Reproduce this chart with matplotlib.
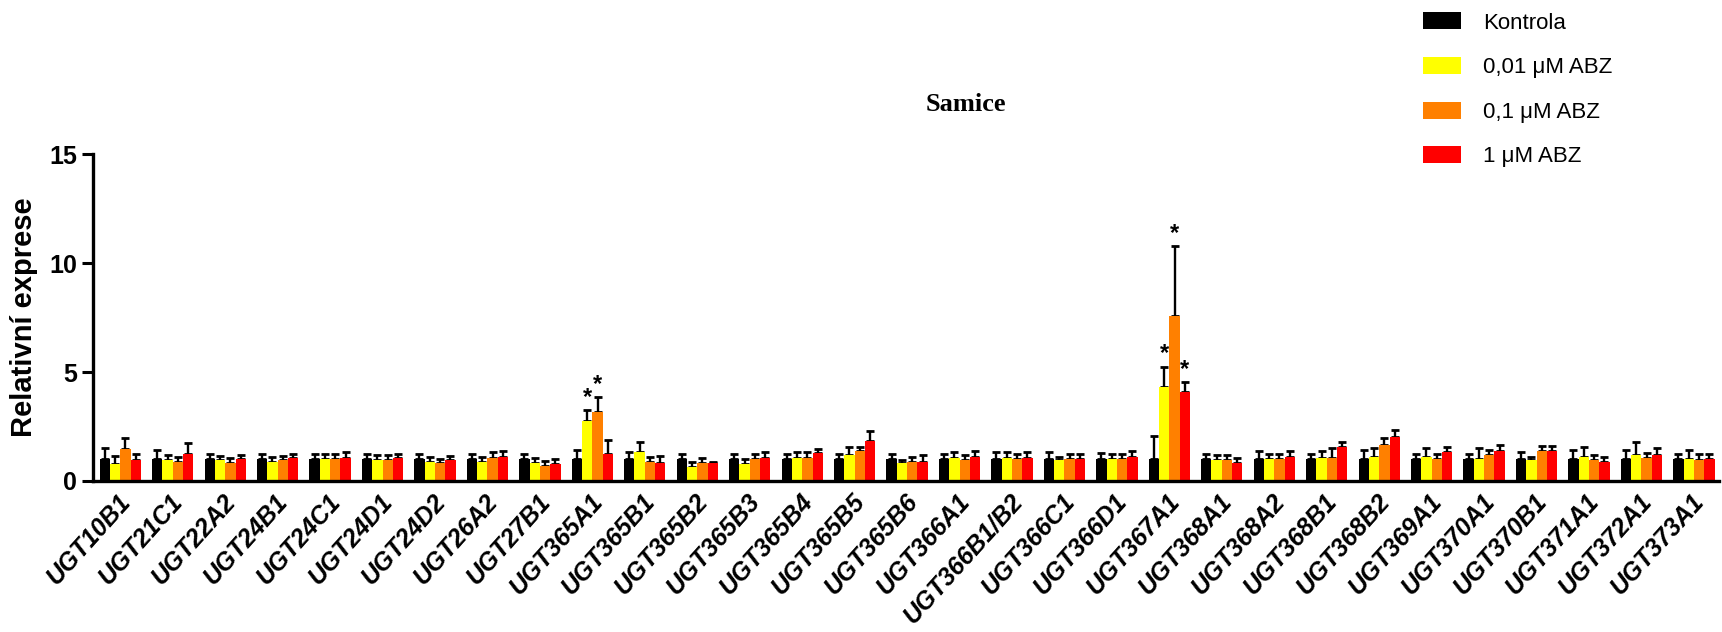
import numpy as np
import matplotlib
matplotlib.use("Agg")
import matplotlib.pyplot as plt

genes = [
    "UGT10B1", "UGT21C1", "UGT22A2", "UGT24B1", "UGT24C1", "UGT24D1", "UGT24D2",
    "UGT26A2", "UGT27B1", "UGT365A1", "UGT365B1", "UGT365B2", "UGT365B3",
    "UGT365B4", "UGT365B5", "UGT365B6", "UGT366A1", "UGT366B1/B2", "UGT366C1",
    "UGT366D1", "UGT367A1", "UGT368A1", "UGT368A2", "UGT368B1", "UGT368B2",
    "UGT369A1", "UGT370A1", "UGT370B1", "UGT371A1", "UGT372A1", "UGT373A1",
]

series_names = ["Kontrola", "0,01 μM ABZ", "0,1 μM ABZ", "1 μM ABZ"]
series_colors = ["#000000", "#FFFF00", "#FF8000", "#FF0000"]

kontrola = [1.0, 1.0, 1.0, 1.0, 1.0, 1.0, 1.0, 1.0, 1.0, 1.0, 1.0, 1.0, 1.0, 1.0, 1.0, 1.0,
            1.0, 1.0, 1.0, 1.0, 1.0, 1.0, 1.0, 1.0, 1.0, 1.0, 1.0, 1.0, 1.0, 1.0, 1.0]
kontrola_err = [0.49, 0.43, 0.23, 0.23, 0.23, 0.23, 0.23, 0.23, 0.23, 0.43, 0.31, 0.24, 0.24, 0.23, 0.23,
                0.24, 0.24, 0.31, 0.31, 0.30, 1.05, 0.24, 0.37, 0.23, 0.43, 0.26, 0.24, 0.31, 0.43, 0.43, 0.24]

abz_001 = [0.76, 0.94, 0.94, 0.88, 1.0, 0.94, 0.88, 0.88, 0.82, 2.77, 1.34, 0.63, 0.76, 1.06, 1.2, 0.82,
           1.06, 1.06, 0.94, 1.0, 4.3, 0.94, 1.0, 1.06, 1.12, 1.12, 1.0, 0.94, 1.12, 1.18, 1.0]
abz_001_err = [0.37, 0.23, 0.21, 0.23, 0.23, 0.23, 0.21, 0.23, 0.23, 0.49, 0.46, 0.26, 0.23, 0.25, 0.35, 0.15,
               0.25, 0.25, 0.18, 0.24, 0.95, 0.23, 0.24, 0.31, 0.37, 0.37, 0.49, 0.17, 0.43, 0.61, 0.43]

abz_01 = [1.46, 0.88, 0.83, 0.95, 1.0, 0.94, 0.82, 1.06, 0.69, 3.17, 0.88, 0.82, 1.0, 1.06, 1.37, 0.88,
          0.94, 1.0, 1.0, 1.0, 7.55, 0.94, 1.0, 1.06, 1.64, 1.0, 1.2, 1.38, 0.94, 1.06, 0.94]
abz_01_err = [0.52, 0.23, 0.21, 0.21, 0.23, 0.23, 0.17, 0.25, 0.23, 0.69, 0.24, 0.23, 0.23, 0.25, 0.18, 0.24,
              0.23, 0.24, 0.24, 0.24, 3.25, 0.23, 0.24, 0.43, 0.34, 0.23, 0.23, 0.23, 0.23, 0.24, 0.30]

abz_1 = [0.95, 1.26, 1.0, 1.06, 1.06, 1.06, 0.95, 1.12, 0.76, 1.25, 0.82, 0.82, 1.06, 1.28, 1.83, 0.88,
         1.12, 1.06, 1.0, 1.12, 4.1, 0.82, 1.12, 1.58, 2.0, 1.32, 1.38, 1.38, 0.88, 1.18, 1.0]
abz_1_err = [0.29, 0.49, 0.17, 0.18, 0.25, 0.18, 0.21, 0.25, 0.23, 0.63, 0.31, 0.05, 0.25, 0.2, 0.46, 0.29,
             0.24, 0.25, 0.24, 0.24, 0.42, 0.24, 0.24, 0.21, 0.34, 0.23, 0.29, 0.23, 0.24, 0.31, 0.24]

# (gene index, series index) marked as significant
significant = [(9, 1), (9, 2), (20, 1), (20, 2), (20, 3)]

values = [kontrola, abz_001, abz_01, abz_1]
errors = [kontrola_err, abz_001_err, abz_01_err, abz_1_err]

fig = plt.figure(figsize=(17.22, 6.32), dpi=100)
ax = fig.add_axes([0.054, 0.239, 0.944, 0.517])

x = np.arange(len(genes))
width = 0.197

for k in range(4):
    pos = x + (k - 1.5) * width
    ax.bar(pos, values[k], width, color=series_colors[k], label=series_names[k], zorder=2)
    ax.errorbar(pos, values[k], yerr=[np.zeros(len(genes)), errors[k]], fmt="none",
                ecolor="black", elinewidth=1.7, capsize=3, capthick=2.0, zorder=1)

# significance stars
for gi, si in significant:
    top = values[si][gi] + errors[si][gi]
    ax.text(gi + (si - 1.5) * width, top + 0.05, "*", ha="center", va="bottom",
            fontsize=17, fontweight="bold", family="Liberation Sans")

ax.set_xlim(-0.52, 30.47)
ax.set_ylim(0, 15)
ax.set_yticks([0, 5, 10, 15])

for side in ["top", "right"]:
    ax.spines[side].set_visible(False)
for side in ["left", "bottom"]:
    ax.spines[side].set_linewidth(2.4)

ax.tick_params(axis="y", length=8, width=2.2, labelsize=18)
ax.tick_params(axis="x", length=0, pad=6)
for lab in ax.get_yticklabels():
    lab.set_fontweight("bold")
    lab.set_family("Liberation Sans")

ax.set_xticks(x - 0.05)
ax.set_xticklabels(genes, rotation=48, ha="right", rotation_mode="anchor",
                   fontsize=18, fontweight="bold", fontstyle="italic", family="Liberation Sans")

ax.set_ylabel("Relativní exprese", fontsize=21, fontweight="bold", family="Liberation Sans", labelpad=8)

fig.text(0.561, 0.835, "Samice", ha="center", va="center", fontsize=19,
         fontweight="bold", family="Liberation Serif")

leg = fig.legend(loc="upper left", bbox_to_anchor=(0.815, 1.012), frameon=False,
                 prop={"family": "Liberation Sans", "size": 16},
                 handlelength=1.7, handleheight=0.8, labelspacing=1.05, handletextpad=1.0)

plt.savefig("out.png", dpi=100)
